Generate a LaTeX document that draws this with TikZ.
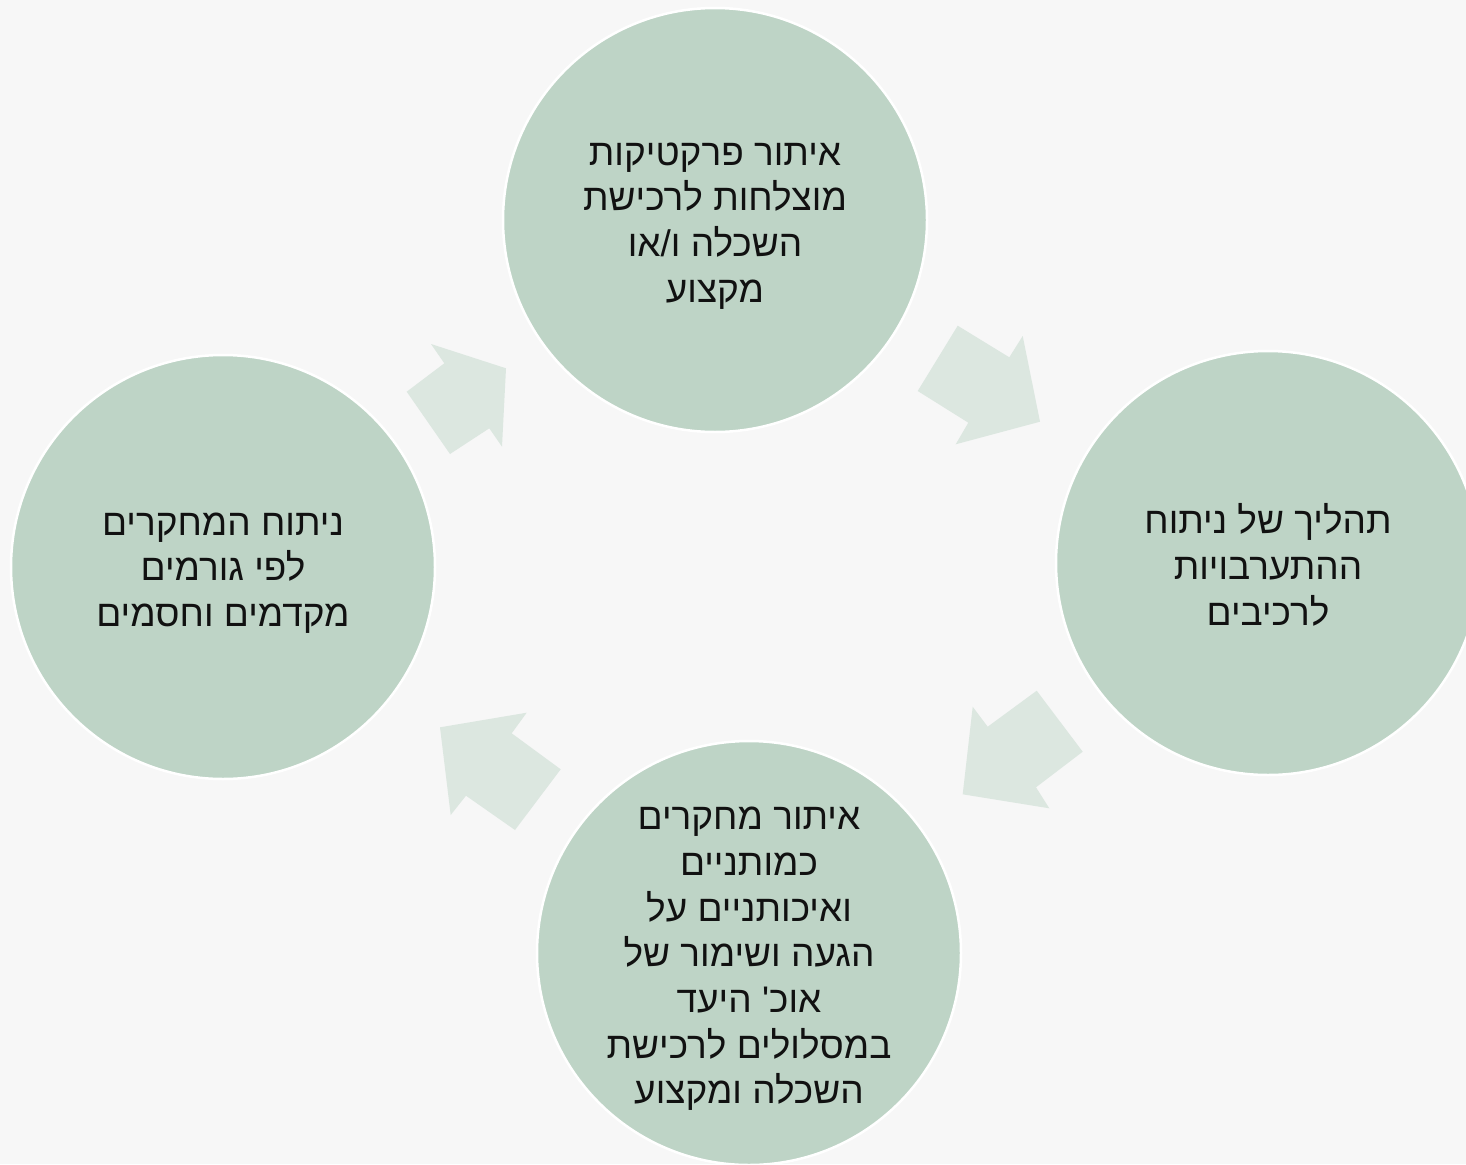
\documentclass[tikz,border=0pt]{standalone}
\usepackage{fontspec}
\TeXXeTstate=1
\newfontfamily\hebfont[Script=Hebrew]{Liberation Sans}
\definecolor{bg}{HTML}{F7F7F7}
\definecolor{circ}{HTML}{BED4C6}
\definecolor{arr}{HTML}{DCE7E0}
\definecolor{ink}{HTML}{111111}
\tikzset{
  bubble/.style={circle, fill=circ, draw=white, line width=2.5pt, minimum size=424pt, inner sep=0pt},
  txt/.style={align=center, text=ink, font=\hebfont\fontsize{37}{45.7}\selectfont, inner sep=0pt, yshift=-6pt},
  blockarrow/.style={fill=arr, draw=none}
}
\begin{document}
\begin{tikzpicture}[x=1pt,y=-1pt]
\fill[bg] (0,0) rectangle (1466,1164);
\useasboundingbox (0,0) rectangle (1466,1164);
\clip (0,0) rectangle (1466,1164);
% block arrows
\fill[blockarrow] (957.7,325.7) -- (1009.3,357.3) -- (1022.7,336) -- (1040,421.7) -- (955.7,444.3) -- (968.3,422.7) -- (917.7,391) -- cycle;
\fill[blockarrow] (431,344) -- (506,368.3) -- (502,446.7) -- (489.3,428.3) -- (450,454) -- (406.7,391.7) -- (444.3,363.3) -- cycle;
\fill[blockarrow] (1036.7,690.7) -- (1082.7,751.7) -- (1036,787.3) -- (1049.3,808.3) -- (962.7,794.3) -- (972.7,706.7) -- (987.7,726.7) -- cycle;
\fill[blockarrow] (526.7,712.7) -- (511.7,733.3) -- (560.7,769.3) -- (515,830) -- (466,795.7) -- (450.7,815) -- (440,727.3) -- cycle;
% circles
\node[bubble] (top) at (715,220) {};
\node[bubble] (right) at (1268,563) {};
\node[bubble] (left) at (223,567) {};
\node[bubble] (bottom) at (749,953) {};
% texts
\node[txt] (ttop) at (top) {\beginR איתור פרקטיקות\endR\\\beginR מוצלחות לרכישת\endR\\\beginR השכלה ו/או\endR\\\beginR מקצוע\endR};
\node[txt, yshift=4pt] (tright) at (right) {\beginR תהליך של ניתוח\endR\\\beginR ההתערבויות\endR\\\beginR לרכיבים\endR};
\node[txt] (tleft) at (left) {\beginR ניתוח המחקרים\endR\\\beginR לפי גורמים\endR\\\beginR מקדמים וחסמים\endR};
\node[txt] (tbottom) at (bottom) {\beginR איתור מחקרים\endR\\\beginR כמותניים\endR\\\beginR ואיכותניים על\endR\\\beginR הגעה ושימור של\endR\\\beginR אוכ' היעד\endR\\\beginR במסלולים לרכישת\endR\\\beginR השכלה ומקצוע\endR};
\end{tikzpicture}
\end{document}
